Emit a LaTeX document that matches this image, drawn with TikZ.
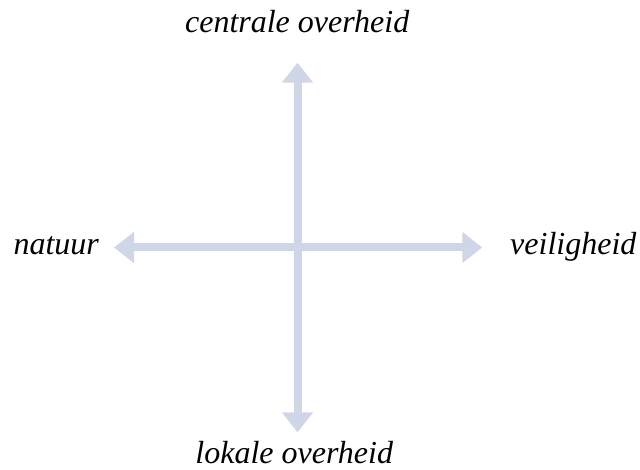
\documentclass[tikz,border=0pt]{standalone}
\usepackage{fontspec}
\setmainfont{Liberation Serif}
\usetikzlibrary{arrows.meta}
\definecolor{axiscol}{RGB}{206,214,231}
\begin{document}
\begin{tikzpicture}[x=1pt,y=1pt,
  axis/.style={draw=axiscol,line width=8pt,-{Triangle[width=30pt,length=20pt,fill=axiscol]}},
  lbl/.style={font=\fontsize{32}{36}\selectfont\itshape,inner sep=0pt,anchor=base}]
\useasboundingbox[fill=white] (0,0) rectangle (640,469);
\coordinate (c) at (297.5,221.5);
\coordinate (top) at (297.5,406.3);
\coordinate (bot) at (297.5,36.7);
\coordinate (lft) at (114,221.5);
\coordinate (rgt) at (482.3,221.5);
\draw[axis] (c) -- (top);
\draw[axis] (c) -- (bot);
\draw[axis] (c) -- (lft);
\draw[axis] (c) -- (rgt);
\node[lbl] (t) at (297.2,436) {centrale overheid};
\node[lbl,anchor=base west] (l) at (13.3,214) {natuur};
\node[lbl,anchor=base west] (r) at (510,214) {veiligheid};
\node[lbl] (b) at (294.2,6) {lokale overheid};
\end{tikzpicture}
\end{document}
